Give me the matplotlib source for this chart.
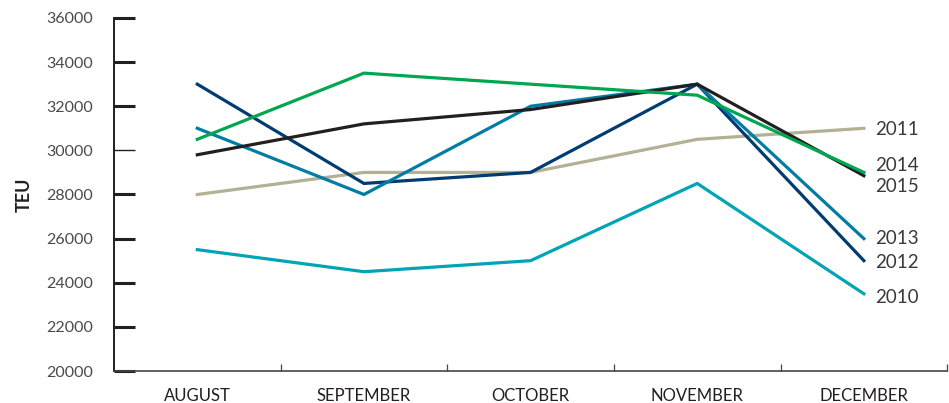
import matplotlib
matplotlib.use("Agg")

import matplotlib.pyplot as plt

# data (TEU)
months = ["AUGUST", "SEPTEMBER", "OCTOBER", "NOVEMBER", "DECEMBER"]
years = ["2011", "2014", "2015", "2013", "2012", "2010"]
teu_2010 = [25500, 24500, 25000, 28500, 23500]
teu_2011 = [28000, 29000, 29000, 30500, 31000]
teu_2012 = [33000, 28500, 29000, 33000, 25000]
teu_2013 = [31000, 28000, 32000, 33000, 26000]
teu_2014 = [30500, 33500, 33000, 32500, 29000]
teu_2015 = [29800, 31200, 31850, 33000, 28850]
y_ticks = list(range(20000, 36001, 2000))

series = {
    "2010": teu_2010,
    "2011": teu_2011,
    "2012": teu_2012,
    "2013": teu_2013,
    "2015": teu_2015,
    "2014": teu_2014,
}
colors = {
    "2010": "#00a5b5",
    "2011": "#b3b094",
    "2012": "#003c71",
    "2013": "#007ca5",
    "2014": "#00a650",
    "2015": "#231f20",
}
# vertical nudge of the end labels, in points
label_shift = {"2011": -1, "2014": 5, "2015": -8, "2013": 0, "2012": -1, "2010": -3}

plt.rcParams["font.family"] = ["Lato", "DejaVu Sans"]

fig = plt.figure(figsize=(9.49, 4.03), dpi=100)
ax = fig.add_axes([0.1201, 0.0794, 0.878, 0.876])

x = list(range(len(months)))
for yr, vals in series.items():
    ax.plot(x, vals, color=colors[yr], lw=2.3, solid_joinstyle="miter", zorder=3)

for yr in years:
    ax.annotate(yr, xy=(x[-1], series[yr][-1]), xytext=(8, label_shift[yr]),
                textcoords="offset points", va="center", ha="left",
                fontsize=13.5, color="#3a3a3a")

ax.set_xlim(-0.5, len(months) - 0.5)
ax.set_ylim(20000, 36000)

# y axis: thick inward ticks
ax.set_yticks(y_ticks)
ax.set_yticklabels([str(v) for v in y_ticks])
ax.tick_params(axis="y", direction="in", length=15, width=2.2, color="#231f20",
               pad=15, labelsize=11.5, labelcolor="#4a4a4a")
# the 30000 tick is drawn thin in the original
ax.yaxis.get_major_ticks()[y_ticks.index(30000)].tick1line.set_markeredgewidth(1.0)

# x axis: small ticks between months, labels centred on months
ax.set_xticks([i + 0.5 for i in range(len(months))])
ax.set_xticklabels([])
ax.tick_params(axis="x", which="major", direction="in", length=5, width=0.9,
               color="#444444")
ax.set_xticks(x, minor=True)
ax.set_xticklabels(months, minor=True)
ax.tick_params(axis="x", which="minor", length=0, pad=12, labelsize=12,
               labelcolor="#231f20")

for s in ["top", "right"]:
    ax.spines[s].set_visible(False)
ax.spines["left"].set_linewidth(1.4)
ax.spines["left"].set_color("#231f20")
ax.spines["bottom"].set_linewidth(1.2)
ax.spines["bottom"].set_color("#444444")

ax.set_ylabel("TEU", fontsize=13, fontweight="bold", color="#231f20", labelpad=10)

fig.savefig("out.png", dpi=100)
